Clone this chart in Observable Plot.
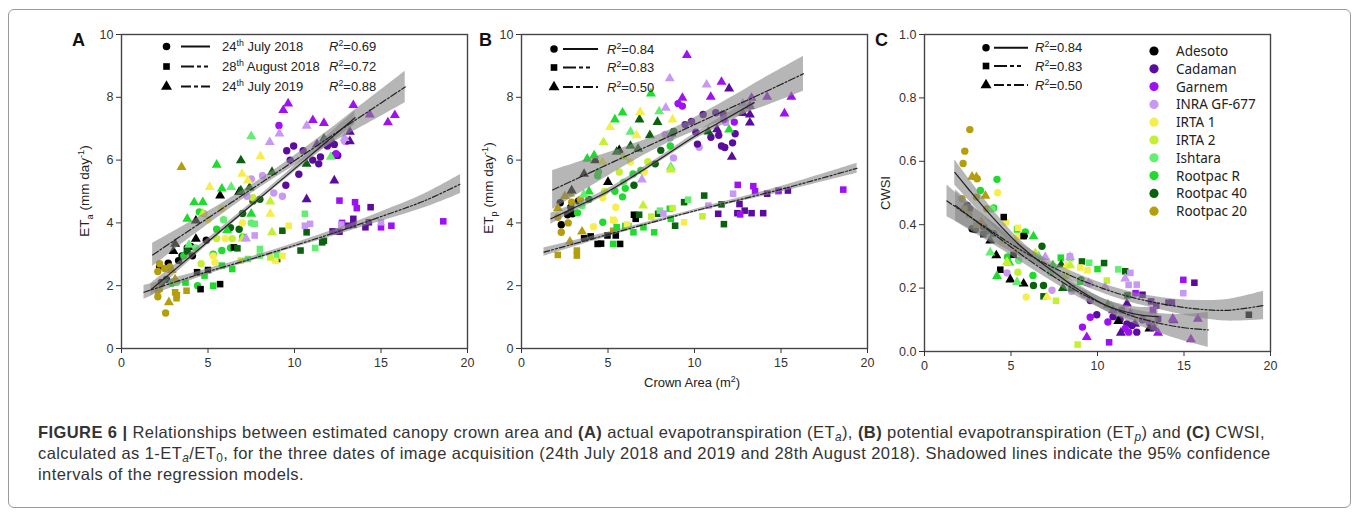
<!DOCTYPE html>
<html><head><meta charset="utf-8">
<script src="https://cdn.jsdelivr.net/npm/d3@7"></script>
<script src="https://cdn.jsdelivr.net/npm/@observablehq/plot@0.6"></script>
<style>
html,body{margin:0;padding:0;background:#fff;}
body{width:1358px;height:515px;position:relative;overflow:hidden;font-family:"Liberation Sans",Arial,sans-serif;}
#box{position:absolute;left:8px;top:9px;width:1341px;height:497px;border:1px solid #9a9a9a;border-radius:6px;}
.panel{position:absolute;}
#cap{position:absolute;left:38px;top:422px;font-size:16.5px;letter-spacing:0.42px;line-height:21px;color:#333;white-space:nowrap;}
#cap sub{font-size:0.72em;line-height:0;vertical-align:-0.28em;}
</style>
</head><body>
<div id="box"></div>
<div id="pA" class="panel"></div>
<div id="pB" class="panel"></div>
<div id="pC" class="panel"></div>
<div id="cap"><b>FIGURE 6 |</b> Relationships between estimated canopy crown area and <b>(A)</b> actual evapotranspiration (ET<sub><i>a</i></sub>), <b>(B)</b> potential evapotranspiration (ET<sub><i>p</i></sub>) and <b>(C)</b> CWSI,<br>calculated as 1-ET<sub><i>a</i></sub>/ET<sub>0</sub>, for the three dates of image acquisition (24th July 2018 and 2019 and 28th August 2018). Shadowed lines indicate the 95% confidence<br>intervals of the regression models.</div>
<script>
// ---------- categories ----------
const cultivars = ["Adesoto","Cadaman","Garnem","INRA GF-677","IRTA 1","IRTA 2","Ishtara","Rootpac R","Rootpac 40","Rootpac 20"];
const cultivarColors = ["#000000","#5b0c9e","#a010f4","#c898f4","#f6ee4c","#c4f034","#62ee70","#1edc2c","#0a620e","#b59e0c"];
const dateLabels = [["24","th"," July 2018"],["28","th"," August 2018"],["24","th"," July 2019"]];
const r2A = ["0.69","0.72","0.88"];
const r2B = ["0.84","0.83","0.50"];
const r2C = ["0.84","0.83","0.50"];
const xTicks = [0,5,10,15,20];
const yTicksET = [0,2,4,6,8,10];
const yTicksCWSI = [0,0.2,0.4,0.6,0.8,1.0];

// ---------- series values: [crown area, value, cultivar index] ----------
const aJul18 = [[2.2,2.62,0],[2.3,2.1,0],[2.6,2.2,0],[2.7,2.72,0],[3.3,2.8,0],[3.8,3.2,0],[4.0,3.25,0],[4.1,2.95,0],[4.9,3.45,0],[6.2,3.82,0],[3.5,2.95,0],
[2.1,2.45,9],[2.2,2.7,9],[2.1,1.65,9],[2.1,1.85,9],[2.55,1.13,9],[2.8,2.6,9],[3.0,2.1,9],[2.5,2.55,9],
[5.8,3.12,7],[5.5,3.8,7],[4.5,4.35,7],[7.0,3.55,7],[6.3,3.2,7],[3.6,2.95,7],[4.4,2.0,7],[5.3,3.0,7],[2.9,2.08,7],
[6.3,3.85,8],[8.0,4.75,8],[7.6,4.7,8],[6.8,3.8,8],[3.8,3.1,8],[7.0,4.3,8],
[5.3,2.95,4],[5.4,2.75,4],[7.0,4.0,4],[6.0,3.5,4],[5.0,4.1,4],[5.8,4.45,4],
[4.6,2.7,5],[7.6,4.8,5],[5.5,3.5,5],[6.4,3.5,5],
[4.3,3.2,6],[5.9,4.1,6],[7.5,4.0,6],[3.2,2.1,6],
[9.5,5.2,1],[9.95,6.45,1],[9.55,6.3,1],[9.75,6.0,1],[10.5,6.3,1],[11.05,6.0,1],[11.4,5.88,1],[11.5,6.1,1],[11.9,6.45,1],[12.3,6.15,1],[12.3,6.5,1],[10.25,5.55,1],[12.5,6.15,1],
[9.1,7.1,2],[12.4,6.2,2],[13.0,6.6,2],[11.7,6.6,2],
[8.15,5.5,3],[7.5,5.4,3],[4.75,4.3,3],[7.25,4.85,3],[8.8,4.95,3],[12.9,6.6,3],[9.3,4.85,3]];
const aAug18 = [[3.1,1.79,9],[3.18,1.6,9],[3.76,1.84,9],[2.2,1.9,9],[3.2,1.7,9],
[4.57,1.89,0],[5.7,2.05,0],[6.5,3.22,0],[4.37,2.43,0],[5.0,2.5,0],
[5.3,2.0,7],[4.8,2.32,7],[5.8,2.64,7],[6.4,2.53,7],[3.7,2.1,7],
[6.7,3.19,8],[9.0,2.85,8],[10.35,3.12,8],[10.7,3.7,8],[11.6,3.38,8],[11.7,3.43,8],[9.3,3.75,8],
[7.7,3.97,6],[10.6,4.29,6],[8.0,2.96,6],[8.0,3.17,6],[7.3,2.85,6],[9.0,3.0,6],[11.2,3.2,6],
[8.9,2.8,4],[9.67,3.91,4],[9.3,2.95,4],
[8.6,2.9,5],[6.9,2.8,5],
[13.1,3.91,1],[13.4,3.94,1],[14.1,3.86,1],[14.3,4.02,1],[14.4,4.5,1],[13.4,4.13,1],[12.2,3.73,1],[12.6,3.72,1],
[12.6,4.71,2],[13.5,4.66,2],[13.6,4.47,2],[15.0,3.86,2],[15.6,3.91,2],[18.6,4.05,2],[12.75,4.0,2],
[10.6,3.91,3],[10.9,3.97,3],[15.0,4.02,3],[7.7,3.6,3],[12.7,3.95,3]];
const aJul19 = [[3.47,5.78,9],[2.74,1.47,9],[3.1,2.2,9],[2.9,2.5,9],
[3.1,3.33,0],[4.3,4.07,0],[4.3,3.49,0],[5.7,4.87,0],[6.8,4.98,0],[3.0,3.1,0],
[6.9,5.99,8],[8.7,5.62,8],[7.4,5.12,8],[6.9,5.03,8],[10.7,5.88,8],[11.7,6.68,8],
[5.5,5.85,7],[5.8,5.09,7],[4.7,4.66,7],[3.8,4.13,7],[7.5,4.29,7],[6.1,3.76,7],[4.2,4.65,7],
[7.5,6.76,6],[6.34,5.14,6],[3.9,3.3,6],[12.1,6.1,6],
[5.1,5.14,4],[6.97,5.56,4],[8.03,6.12,4],[8.6,4.29,4],[7.3,5.35,4],
[8.6,4.68,5],[8.7,3.7,5],[4.7,4.3,5],[7.0,3.5,5],
[12.3,5.35,1],[12.2,6.57,1],[13.2,6.9,1],[13.2,6.6,1],[11.3,6.5,1],[11.8,6.6,1],[10.7,4.75,1],
[9.35,7.59,2],[9.63,7.8,2],[13.4,7.75,2],[14.35,7.45,2],[15.4,7.2,2],[15.8,7.43,2],[11.06,7.27,2],[11.7,7.18,2],
[9.13,6.84,3],[8.57,6.57,3],[10.7,7.09,3],[12.9,6.7,3],[7.2,3.5,3]];

const bJul18 = [[2.24,4.64,0],[2.3,3.94,0],[2.66,4.26,0],[2.85,4.5,0],[2.95,4.29,0],[3.3,4.7,0],
[2.1,4.18,9],[2.3,3.7,9],[2.7,4.0,9],[2.9,4.66,9],[3.4,4.75,9],
[3.24,4.32,7],[4.45,5.62,7],[5.4,5.01,7],[5.84,4.83,7],[6.45,5.56,7],[6.9,5.67,7],[4.7,4.02,7],[8.6,6.45,7],[6.0,5.1,7],[4.4,5.5,7],
[7.73,5.88,8],[8.05,6.31,8],[8.8,6.91,8],[6.5,5.2,8],[3.9,4.75,8],
[4.16,3.88,4],[5.36,4.07,4],[5.45,4.5,4],[7.1,5.62,4],[6.3,5.94,4],[4.7,4.8,4],
[5.65,5.62,5],[7.3,5.95,5],[4.8,5.0,5],
[5.9,5.3,6],[3.5,4.55,6],
[8.3,6.82,3],[8.78,6.07,3],[10.27,6.41,3],[8.6,6.7,3],[11.8,7.2,3],
[9.46,7.13,1],[9.83,7.23,1],[10.5,7.45,1],[11.23,7.51,1],[11.66,7.47,1],[10.95,6.73,1],[11.4,6.79,1],[11.56,6.45,1],[11.75,6.4,1],[12.2,6.55,1],[12.35,6.84,1],[10.17,6.51,1],[10.08,6.89,1],
[9.3,7.72,2],[12.3,7.21,2],[11.7,7.3,2],[9.05,7.8,2]];
const bAug18 = [[2.1,2.98,9],[3.2,3.12,9],[3.2,2.96,9],[5.3,3.75,9],
[3.62,3.51,0],[4.0,3.57,0],[4.4,3.33,0],[4.6,3.34,0],[4.97,3.6,0],[5.45,3.6,0],[5.7,3.33,0],[6.5,4.26,0],[6.6,4.13,0],
[5.3,3.33,7],[5.5,3.86,7],[6.47,3.7,7],[7.05,3.86,7],[7.67,3.7,7],[8.63,4.13,7],[8.57,4.45,7],[6.0,3.9,7],
[6.8,4.26,8],[7.9,4.29,8],[8.88,3.91,8],[9.4,4.66,8],[10.56,4.87,8],[11.7,3.96,8],[11.56,4.59,8],
[8.0,4.39,6],[9.63,4.74,6],[6.2,3.9,6],
[5.3,4.1,4],[9.4,4.02,4],[6.1,3.95,4],
[8.73,4.47,5],[10.46,4.21,5],[7.5,4.2,5],
[10.8,4.55,3],[12.23,4.93,3],[14.84,5.0,3],[8.2,4.3,3],
[11.37,4.29,1],[12.48,4.31,1],[12.9,4.39,1],[13.3,4.31,1],[13.97,4.31,1],[14.2,4.93,1],[15.4,5.03,1],[12.6,4.6,1],
[12.5,5.21,2],[13.4,5.17,2],[13.5,5.01,2],[14.86,5.03,2],[18.6,5.06,2],[12.64,4.27,2]];
const bJul19 = [[2.1,4.47,9],[2.8,4.93,9],[2.8,3.4,9],[3.5,3.72,9],[2.5,4.85,9],
[3.62,5.56,0],[4.26,5.99,0],[2.9,5.03,0],[5.65,6.31,0],[5.0,5.3,0],
[3.8,6.04,7],[4.2,6.15,7],[5.4,7.29,7],[5.84,7.51,7],[7.48,8.12,7],[12.0,6.97,7],[3.9,5.0,7],
[5.5,6.26,8],[6.74,6.36,8],[6.82,7.29,8],[7.42,6.79,8],[7.86,7.21,8],[8.67,6.84,8],[10.8,6.91,8],[6.3,6.45,8],
[7.96,7.55,6],[8.63,5.78,6],[3.6,4.9,6],[6.3,6.9,6],
[5.12,7.05,4],[6.86,7.53,4],[8.73,7.29,4],[6.65,6.79,4],[4.68,5.94,4],
[4.74,6.57,5],[8.63,5.7,5],[7.03,4.55,5],[5.9,6.1,5],
[8.57,8.6,3],[8.34,7.66,3],[10.7,8.4,3],[6.96,5.38,3],[12.8,7.8,3],
[9.56,9.34,2],[9.3,7.98,2],[10.94,8.01,2],[11.56,8.49,2],[14.2,8.01,2],[15.6,8.01,2],[15.2,7.48,2],[13.3,7.98,2],
[12.0,8.28,1],[13.2,7.72,1],[13.2,7.45,1],[13.2,7.19,1],[12.16,6.1,1],[11.3,6.98,1],[12.8,7.5,1]];

const cJul18 = [[2.62,0.70,9],[2.33,0.632,9],[2.23,0.593,9],[3.0,0.487,9],[3.04,0.545,9],[2.17,0.482,9],[3.6,0.45,9],
[2.46,0.461,0],[2.75,0.387,0],[2.94,0.385,0],[3.42,0.393,0],[4.0,0.372,0],[5.77,0.366,0],[2.6,0.45,0],
[3.23,0.508,7],[4.19,0.543,7],[4.0,0.453,7],[4.8,0.298,7],[6.27,0.24,7],[5.83,0.377,7],[7.3,0.25,7],
[6.79,0.332,8],[6.88,0.208,8],[6.3,0.208,8],[9.04,0.226,8],[3.6,0.38,8],
[4.23,0.501,4],[4.71,0.408,4],[5.38,0.361,4],[5.88,0.172,4],[5.35,0.324,4],
[4.5,0.35,5],[5.4,0.25,5],[8.2,0.24,5],
[3.9,0.45,6],[5.44,0.287,6],
[4.77,0.248,3],[7.37,0.193,3],[9.54,0.214,3],[9.2,0.18,3],[8.5,0.19,3],
[9.58,0.161,1],[9.96,0.116,1],[11.3,0.101,1],[11.7,0.087,1],[12.0,0.082,1],[12.27,0.061,1],[10.9,0.11,1],[11.4,0.13,1],[12.6,0.1,1],
[9.13,0.077,2],[9.58,0.108,2],[11.8,0.061,2],[11.6,0.072,2],[10.6,0.093,2],[13.0,0.09,2]];
const cAug18 = [[2.58,0.432,9],[3.0,0.40,9],[2.3,0.45,9],
[4.58,0.424,0],[4.38,0.258,0],[5.73,0.364,0],[5.15,0.305,0],[18.75,0.116,0],[3.4,0.37,0],
[5.35,0.385,7],[7.88,0.296,7],[10.0,0.26,7],[9.0,0.22,7],
[9.1,0.284,8],[10.38,0.279,8],[11.6,0.253,8],[11.73,0.177,8],[6.88,0.174,8],[8.5,0.2,8],
[9.52,0.28,6],[11.2,0.259,6],[8.42,0.295,6],
[9.42,0.256,4],[9.0,0.265,4],[5.4,0.39,4],
[10.54,0.224,5],[8.85,0.022,5],[7.6,0.16,5],
[11.9,0.248,3],[12.27,0.211,3],[14.96,0.184,3],[8.4,0.3,3],[11.8,0.21,3],
[13.1,0.158,1],[13.4,0.145,1],[14.1,0.154,1],[14.3,0.154,1],[15.6,0.217,1],[12.6,0.179,1],[13.5,0.103,1],
[14.96,0.226,2],[12.2,0.184,2],[10.67,0.029,2],[13.2,0.13,2]];
const cJul19 = [[2.75,0.551,9],[3.52,0.491,9],[3.29,0.408,9],[3.0,0.55,9],
[5.73,0.214,0],[4.15,0.303,0],[4.96,0.227,0],[11.2,0.096,0],[13.0,0.072,0],[3.8,0.35,0],
[4.19,0.238,7],[6.3,0.363,7],[7.42,0.272,7],[4.9,0.28,7],
[7.9,0.274,8],[10.6,0.147,8],[8.0,0.2,8],
[3.8,0.312,6],[5.35,0.219,6],[6.6,0.3,6],[10.8,0.14,6],
[7.08,0.172,4],[8.2,0.27,4],
[4.77,0.282,5],[8.42,0.272,5],[6.4,0.31,5],
[6.98,0.298,3],[8.42,0.298,3],[9.48,0.216,3],[10.44,0.203,3],[11.6,0.23,3],
[11.35,0.059,1],[12.17,0.087,1],[11.7,0.151,1],[13.27,0.074,1],[14.4,0.098,1],[10.9,0.13,1],
[9.38,0.045,2],[15.4,0.038,2],[15.8,0.103,2],[13.5,0.059,2],[14.35,0.103,2],[11.9,0.12,2]];

// ---------- fitted models: [crown area, fitted value, 95% CI half-width] ----------
const aFitJul18 = [[1.7,1.87,0.2],[4,2.94,0.12],[7,4.33,0.08],[10,5.72,0.1],[13.5,7.35,0.22]];
const aFitAug18 = [[1.3,1.79,0.22],[3,2.1,0.14],[5,2.45,0.09],[7.5,2.85,0.07],[10,3.28,0.07],[12.5,3.72,0.1],[15,4.2,0.15],[17.5,4.7,0.22],[19.6,5.24,0.3]];
const aFitJul19 = [[1.8,2.98,0.37],[4,3.79,0.25],[6,4.52,0.17],[8,5.25,0.13],[10,5.98,0.16],[12,6.72,0.24],[14,7.45,0.36],[16.4,8.33,0.5]];
const bFitJul18 = [[1.7,4.13,0.17],[3,4.47,0.12],[5,5.0,0.09],[7.5,5.85,0.08],[10,6.75,0.1],[12,7.37,0.15],[13.45,7.83,0.2]];
const bFitAug18 = [[1.3,3.07,0.13],[5,3.63,0.07],[10,4.38,0.05],[15,5.07,0.09],[19.4,5.74,0.16]];
const bFitJul19 = [[1.8,5.05,0.62],[4,5.61,0.45],[6,6.12,0.3],[8,6.62,0.2],[10,7.13,0.22],[12,7.64,0.32],[14,8.15,0.45],[16.3,8.75,0.56]];
const cFitJul18 = [[1.75,0.565,0.04],[2.5,0.515,0.035],[3.5,0.45,0.028],[4.5,0.39,0.022],[5.5,0.335,0.018],[6.5,0.29,0.016],[7.5,0.25,0.015],[8.5,0.21,0.015],[9.5,0.175,0.016],[10.5,0.145,0.018],[11.5,0.127,0.02],[12.5,0.115,0.024],[13.5,0.11,0.03]];
const cFitAug18 = [[1.3,0.475,0.05],[2.5,0.43,0.04],[4,0.375,0.03],[5.5,0.322,0.022],[7,0.277,0.017],[8.5,0.238,0.015],[10,0.205,0.015],[11.5,0.178,0.016],[13,0.158,0.018],[14.5,0.143,0.022],[16,0.133,0.028],[17.5,0.13,0.034],[19.6,0.145,0.045]];
const cFitJul19 = [[1.8,0.46,0.05],[3,0.41,0.04],[4.5,0.35,0.03],[6,0.29,0.022],[7.5,0.235,0.018],[9,0.185,0.017],[10.5,0.145,0.018],[12,0.112,0.022],[13.5,0.09,0.03],[15,0.075,0.042],[16.4,0.068,0.055]];

// ---------- drawing ----------
const shapes = ["circle","square","triangle"];
const lineDash = [null,"6,2,2,2,2,2","7,2,2,2"];
const legendDash = [null,"13,3,4,3,4,8","10,3,4,3"];
const d3Sym = {circle:d3.symbolCircle, square:d3.symbolSquare, triangle:d3.symbolTriangle};
const FONT = "'Liberation Sans', Arial, sans-serif";

function rich(g, x, y, parts, fs, attrs = {}) {
  const t = g.append("text").attr("x", x).attr("y", y).attr("font-size", fs).attr("fill", "#222")
    .attr("font-family", FONT).attr("text-anchor", "start");
  for (const k in attrs) t.attr(k, attrs[k]);
  let shift = 0;
  for (const p of parts) {
    const [s, kind] = typeof p === "string" ? [p, ""] : p;
    const ts = t.append("tspan").text(s);
    const small = kind.includes("sub") || kind.includes("sup");
    const target = kind.includes("sub") ? 0.3 * fs : kind.includes("sup") ? -0.38 * fs : 0;
    if (target - shift !== 0) ts.attr("dy", target - shift);
    shift = target;
    if (small) ts.attr("font-size", fs * 0.68);
    if (kind.includes("i")) ts.attr("font-style", "italic");
  }
  return t;
}

function makePanel(cfg) {
  const {el, left, top, width, height, m, yDomain, yTicks, yFormat, series, fits} = cfg;
  const marks = [];
  series.forEach((s, i) => marks.push(Plot.dot(s, {x: d => d[0], y: d => d[1], fill: d => cultivarColors[d[2]], symbol: shapes[i], r: 3.7})));
  fits.forEach(f => marks.push(Plot.areaY(f, {x: d => d[0], y1: d => d[1] - d[2], y2: d => d[1] + d[2], fill: "#858585", fillOpacity: 0.6, curve: "catmull-rom"})));
  fits.forEach((f, i) => marks.push(Plot.line(f, {x: d => d[0], y: d => d[1], stroke: "#222", strokeWidth: 1.2, strokeDasharray: lineDash[i], curve: "catmull-rom"})));
  marks.push(Plot.frame({stroke: "#454545", strokeWidth: 1.4}));
  marks.push(Plot.axisX({ticks: xTicks, tickSize: 5, tickPadding: 5, label: null}));
  marks.push(Plot.axisY({ticks: yTicks, tickSize: 5, tickPadding: 3, label: null, tickFormat: yFormat}));
  const svg = Plot.plot({
    width, height, marginLeft: m[0], marginRight: m[1], marginTop: m[2], marginBottom: m[3],
    x: {domain: [0, 20]}, y: {domain: yDomain}, color: {type: "identity"},
    style: {fontFamily: FONT, fontSize: "12.5px", color: "#333", background: "transparent", overflow: "visible", maxWidth: "none"},
    marks
  });
  const div = document.getElementById(el);
  div.style.left = left + "px"; div.style.top = top + "px";
  div.appendChild(svg);
  const g = d3.select(svg).append("g").attr("transform", `translate(${-left},${-top})`).attr("text-anchor", "start");
  return g;
}

function seriesLegend(g, mx, lx1, lx2, rows, textX, r2, r2X, withDates) {
  rows.forEach((y, i) => {
    g.append("path").attr("d", d3.symbol(d3Sym[shapes[i]], i === 2 ? 52 : 44)()).attr("transform", `translate(${mx},${y})`).attr("fill", "#000");
    const ln = g.append("line").attr("x1", lx1).attr("x2", lx2).attr("y1", y).attr("y2", y).attr("stroke", "#111").attr("stroke-width", 2);
    if (legendDash[i]) ln.attr("stroke-dasharray", legendDash[i]);
    if (withDates) rich(g, textX, y + 4.5, [dateLabels[i][0], [dateLabels[i][1], "sup"], dateLabels[i][2]], 13);
    rich(g, r2X, y + 4.5, [["R", "i"], ["2", "sup"], "=" + r2[i]], 13);
  });
}

function panelLetter(g, x, s) {
  g.append("text").attr("x", x).attr("y", 45.5).attr("font-size", 18).attr("font-weight", "bold")
    .attr("font-family", FONT).attr("text-anchor", "start").attr("fill", "#111").text(s);
}

// Panel A
const gA = makePanel({el: "pA", left: 60, top: 20, width: 420, height: 360, m: [61, 13, 14, 32],
  yDomain: [0, 10], yTicks: yTicksET, yFormat: d3.format("d"),
  series: [aJul18, aAug18, aJul19], fits: [aFitJul18, aFitAug18, aFitJul19]});
seriesLegend(gA, 166.5, 181, 210, [46.5, 66.5, 86.5], 222, r2A, 329, true);
rich(gA, 0, 0, ["ET", ["a", "sub"], " (mm day", ["-1", "sup"], ")"], 13.5, {"text-anchor": "middle", transform: "translate(89,191) rotate(-90)"});
panelLetter(gA, 72, "A");

// Panel B
const gB = makePanel({el: "pB", left: 470, top: 20, width: 410, height: 360, m: [51, 13, 14, 32],
  yDomain: [0, 10], yTicks: yTicksET, yFormat: d3.format("d"),
  series: [bJul18, bAug18, bJul19], fits: [bFitJul18, bFitAug18, bFitJul19]});
seriesLegend(gB, 554, 563, 598, [49, 67.5, 87], 0, r2B, 607, false);
rich(gB, 0, 0, ["ET", ["p", "sub"], " (mm day", ["-1", "sup"], ")"], 13.5, {"text-anchor": "middle", transform: "translate(493,188) rotate(-90)"});
rich(gB, 692, 387, ["Crown Area (m", ["2", "sup"], ")"], 13, {"text-anchor": "middle"});
panelLetter(gB, 479, "B");

// Panel C
const gC = makePanel({el: "pC", left: 870, top: 20, width: 420, height: 360, m: [54, 20, 14, 29],
  yDomain: [0, 1], yTicks: yTicksCWSI, yFormat: d3.format(".1f"),
  series: [cJul18, cAug18, cJul19], fits: [cFitJul18, cFitAug18, cFitJul19]});
seriesLegend(gC, 986, 994, 1028, [47.7, 66, 85], 0, r2C, 1035, false);
rich(gC, 0, 0, ["CWSI"], 13, {"text-anchor": "middle", transform: "translate(890,193) rotate(-90)"});
panelLetter(gC, 875, "C");
cultivars.forEach((name, i) => {
  const y = 51 + i * 17.8;
  gC.append("circle").attr("cx", 1154).attr("cy", y).attr("r", 4.6).attr("fill", cultivarColors[i]);
  gC.append("text").attr("x", 1176).attr("y", y + 5).attr("font-size", 13.5).attr("fill", "#222")
    .attr("text-anchor", "start").attr("font-family", "'Noto Sans', 'Open Sans', sans-serif").text(name);
});
</script>
</body></html>
